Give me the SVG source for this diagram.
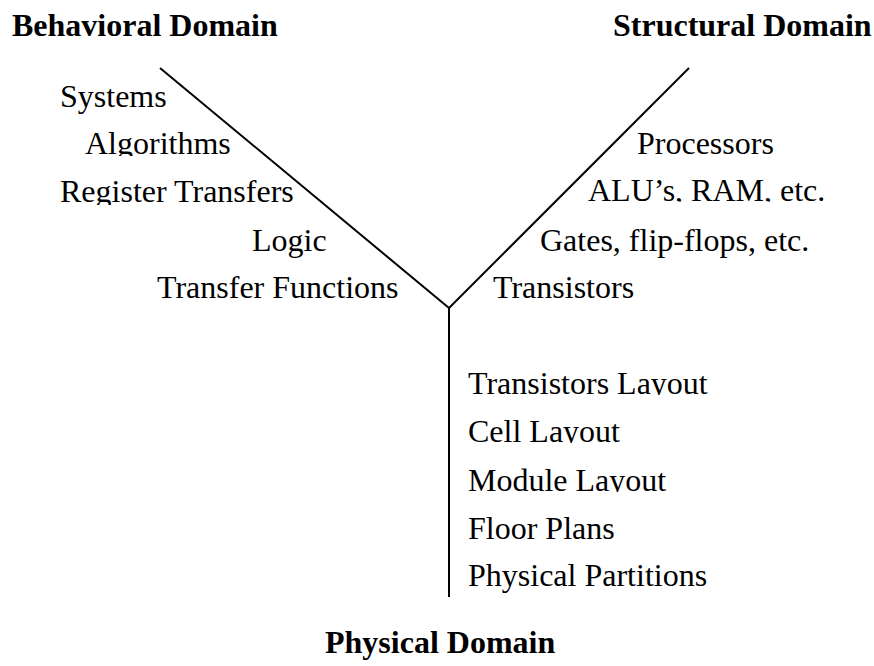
<svg xmlns="http://www.w3.org/2000/svg" width="874" height="666" viewBox="0 0 874 666">
<style>
text{font-family:"Liberation Serif","Times New Roman",serif;font-size:32px;fill:#000}
.title{font-weight:bold}
.axis{stroke:#000;stroke-width:2;fill:none}
</style>
<defs>
<clipPath id="c1"><rect x="0" y="110" width="440" height="46"/></clipPath>
<clipPath id="c2"><rect x="0" y="160" width="440" height="45"/></clipPath>
<clipPath id="c3"><rect x="560" y="160" width="314" height="41.5"/></clipPath>
<clipPath id="c4"><rect x="460" y="350" width="300" height="45"/></clipPath>
<clipPath id="c5"><rect x="460" y="400" width="300" height="43"/></clipPath>
<clipPath id="c6"><rect x="460" y="450" width="300" height="42"/></clipPath>
</defs>
<g id="connectors">
<line class="axis" x1="160" y1="68" x2="449" y2="308"/>
<line class="axis" x1="689" y1="68" x2="449" y2="308"/>
<line class="axis" x1="449" y1="308" x2="449" y2="597"/>
</g>
<g id="behavioral">
<text class="title" x="12" y="36">Behavioral Domain</text>
<text x="60" y="107">Systems</text>
<text x="85" y="154" clip-path="url(#c1)">Algorithms</text>
<text x="60" y="202" clip-path="url(#c2)">Register Transfers</text>
<text x="252" y="251">Logic</text>
<text x="157" y="298">Transfer Functions</text>
</g>
<g id="structural">
<text class="title" x="613" y="36">Structural Domain</text>
<text x="637" y="154">Processors</text>
<text x="588" y="201" clip-path="url(#c3)">ALU’s, RAM, etc.</text>
<text x="540" y="251">Gates, flip-flops, etc.</text>
<text x="493" y="298">Transistors</text>
</g>
<g id="physical">
<text x="468" y="394" clip-path="url(#c4)">Transistors Layout</text>
<text x="468" y="442" clip-path="url(#c5)">Cell Layout</text>
<text x="468" y="491" clip-path="url(#c6)">Module Layout</text>
<text x="468" y="539">Floor Plans</text>
<text x="468" y="586">Physical Partitions</text>
<text class="title" x="325" y="653">Physical Domain</text>
</g>
</svg>
